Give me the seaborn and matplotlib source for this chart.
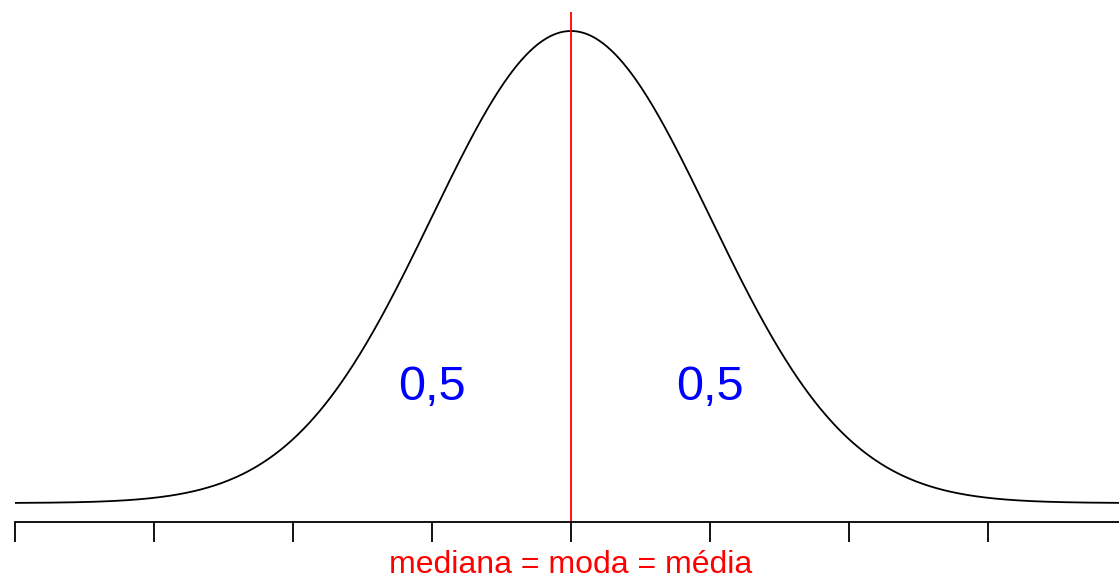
import numpy as np
import pandas as pd
import seaborn as sns
import matplotlib.pyplot as plt
import matplotlib.transforms as mtransforms

# Parâmetros da normal padrão
media = 0
desvio = 1
x_min, x_max = -4, 4
ticks = [-4, -3, -2, -1, 0, 1, 2, 3, 4]
areas = ["0,5", "0,5"]
area_x = [-1, 1]
area_y = [0.098, 0.098]
rotulo = "mediana = moda = média"

x = np.linspace(x_min, x_max, 801)
dens = np.exp(-0.5 * ((x - media) / desvio) ** 2) / (desvio * np.sqrt(2 * np.pi))
df = pd.DataFrame({"x": x, "densidade": dens})

sns.set_style("white")
plt.rcParams['font.family'] = ['Liberation Sans', 'DejaVu Sans']

fig = plt.figure(figsize=(11.19, 5.78), dpi=100)
ax = fig.add_axes([15 / 1119, 56 / 578, 1112 / 1119, 510 / 578])

sns.lineplot(data=df, x="x", y="densidade", color="black", linewidth=1.3, ax=ax)
ax.axvline(media, color="red", linewidth=1.3)

for txt, xx, yy in zip(areas, area_x, area_y):
    ax.text(xx, yy, txt, color="blue", fontsize=35, ha="center", va="center")

trans = mtransforms.blended_transform_factory(ax.transData, ax.transAxes)
ax.text(media, -0.084, rotulo, color="red", fontsize=23, ha="center", va="center",
        transform=trans)

ax.set_xlim(x_min, x_max)
ax.set_ylim(-0.016, 0.415)
ax.set_xticks(ticks)
ax.set_xticklabels([])
ax.set_yticks([])
ax.set_xlabel("")
ax.set_ylabel("")
for s in ["left", "top", "right"]:
    ax.spines[s].set_visible(False)
ax.spines["bottom"].set_bounds(x_min, x_max)
ax.spines["bottom"].set_linewidth(1.3)
ax.spines["bottom"].set_color("black")
ax.tick_params(axis="x", direction="out", length=14.4, width=1.3, color="black", bottom=True)

fig.savefig("out.png", dpi=100)
plt.close()
